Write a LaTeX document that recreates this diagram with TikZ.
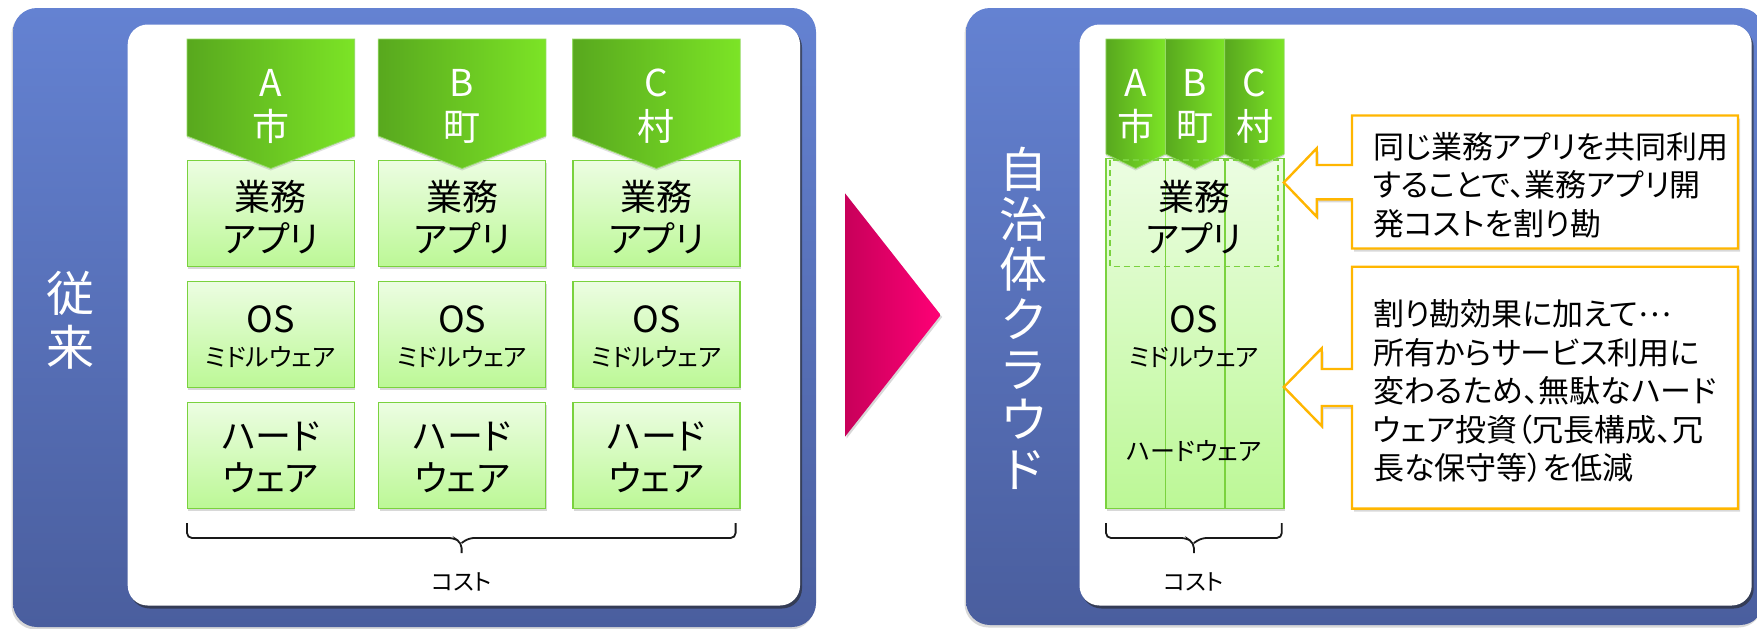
\documentclass[tikz,border=0pt]{standalone}
\usepackage{fontspec}
\setmainfont[RawFeature=+palt]{Noto Sans CJK JP}
\usetikzlibrary{shadows}
\definecolor{panelTop}{RGB}{100,130,210}
\definecolor{panelBot}{RGB}{74,94,158}
\definecolor{gDark}{RGB}{88,168,30}
\definecolor{gLight}{RGB}{124,228,38}
\definecolor{gBorder}{RGB}{122,210,62}
\definecolor{bTop}{RGB}{236,253,226}
\definecolor{bBot}{RGB}{188,248,150}
\definecolor{pinkL}{RGB}{200,0,90}
\definecolor{pinkR}{RGB}{255,0,118}
\definecolor{orng}{RGB}{255,182,0}
\definecolor{braceC}{RGB}{25,25,25}
\newcommand\fsz[2]{\fontsize{#1}{#2}\selectfont}
\begin{document}
\begin{tikzpicture}[x=1pt,y=-1pt,
  panel/.style={top color=panelTop,bottom color=panelBot,rounded corners=24,
    drop shadow={shadow xshift=-1.5pt,shadow yshift=-2.5pt,opacity=.3}},
  innerbox/.style={fill=white,rounded corners=20,
    drop shadow={shadow xshift=2pt,shadow yshift=-3pt,opacity=.6,fill=black!85}},
  gbox/.style={draw=gBorder,line width=1.6pt,top color=bTop,bottom color=bBot,
    minimum width=167,minimum height=106,inner sep=0pt,align=center,
    drop shadow={shadow xshift=1pt,shadow yshift=-2.5pt,opacity=.3}},
  colbox/.style={draw=gBorder,line width=1.6pt,top color=bTop,bottom color=bBot,
    minimum width=59.5,minimum height=350,inner sep=0pt,
    drop shadow={shadow xshift=1pt,shadow yshift=-2.5pt,opacity=.3}},
  pent/.style={left color=gDark,right color=gLight,draw=gBorder!80!white,line width=.8pt,
    drop shadow={shadow xshift=0pt,shadow yshift=-2pt,opacity=.25}},
  big/.style={font=\fsz{36}{42},align=center,inner sep=0pt,text=black},
  small/.style={font=\fsz{25}{28},align=center,inner sep=0pt,text=black},
  cost/.style={font=\fsz{23}{26},align=center,inner sep=0pt,text=black},
  wlab/.style={font=\fsz{37}{44},align=center,inner sep=0pt,text=white},
  title/.style={align=center,inner sep=0pt,text=white},
  bracestyle/.style={draw=braceC,line width=1.8pt,rounded corners=5},
  callout/.style={draw=orng,line width=2.4pt,fill=white,line join=miter,
    drop shadow={shadow xshift=2pt,shadow yshift=-3pt,opacity=.3}},
  ctext/.style={font=\fsz{31}{38.5},align=left,inner sep=0pt,anchor=west,text=black}
]
\useasboundingbox (0,0) rectangle (1757,629);
\fill[white] (0,0) rectangle (1757,629);

% ---------- left panel ----------
\path[panel] (13,8) rectangle (816,627);
\path[innerbox] (127.7,24.5) rectangle (800,605.5);
\node[title,font=\fsz{48}{54}] (titleL) at (70.6,320) {従\\来};

\foreach \n/\x/\t/\c in {a/270.8/A/市, b/462.1/B/町, c/656.4/C/村}{
  \node[gbox] (\n app) at (\x,213.5) {};
  \node[gbox] (\n os)  at (\x,334.3) {};
  \node[gbox] (\n hw)  at (\x,455.5) {};
  \node[big] (\n appT) at (\x,217.5) {業務\\アプリ};
  \node[big] (\n osT) at (\x,319) {OS};
  \node[small] (\n mwT) at (\x,357) {ミドルウェア};
  \node[big] (\n hwT) at (\x,457) {ハード\\ウェア};
  \path[pent] (\x-83.8,39) -- (\x+83.8,39) -- (\x+83.8,136) -- (\x,168.5) -- (\x-83.8,136) -- cycle;
  \node[wlab] (\n lab) at (\x,106) {\t\\\c};
}

% brace left
\coordinate (bl1) at (187,523);
\coordinate (bl2) at (735.6,523);
\coordinate (blm) at (461.6,553);
\draw[bracestyle] (bl1) -- (187,538) -- (454,538) -- (461.6,543) -- (blm);
\draw[bracestyle] (bl2) -- (735.6,538) -- (469,538) -- (461.6,543);
\node[cost] (costL) at (461.6,581.7) {コスト};

% ---------- arrow ----------
\path[left color=pinkL,right color=pinkR,
  drop shadow={shadow xshift=1.5pt,shadow yshift=-2pt,opacity=.3}]
  (845,193.3) -- (940.7,315) -- (845,436.7) -- cycle;

% ---------- right panel ----------
\path[panel] (966,8) rectangle (1764,625);
\path[innerbox] (1079.5,24.5) rectangle (1751.7,605.5);
\node[title,font=\fsz{48}{50}] (titleR) at (1023.5,318) {自\\治\\体\\ク\\ラ\\ウ\\ド};

\foreach \n/\x in {ra/1135.65, rb/1195.1, rc/1254.5}{
  \node[colbox] (\n col) at (\x,333.5) {};
}
\foreach \n/\x/\t/\c in {ra/1135.65/A/市, rb/1195.1/B/町, rc/1254.5/C/村}{
  \path[pent] (\x-29.7,39) -- (\x+29.7,39) -- (\x+29.7,154) -- (\x,168.5) -- (\x-29.7,154) -- cycle;
  \node[wlab] (\n lab) at (\x,106) {\t\\\c};
}
\draw[gBorder,line width=1.5pt,dash pattern=on 6pt off 4pt] (1110,160) rectangle (1278,266.5);
\node[big] (rappT) at (1194,217.5) {業務\\アプリ};
\node[big] (rosT) at (1194,319) {OS};
\node[small] (rmwT) at (1194,357) {ミドルウェア};
\node[small] (rhwT) at (1194,451) {ハードウェア};

% brace right
\coordinate (br1) at (1106,523);
\coordinate (br2) at (1281.8,523);
\coordinate (brm) at (1193.9,553);
\draw[bracestyle] (br1) -- (1106,538) -- (1186.3,538) -- (1193.9,543) -- (brm);
\draw[bracestyle] (br2) -- (1281.8,538) -- (1201.5,538) -- (1193.9,543);
\node[cost] (costR) at (1193.9,581.7) {コスト};

% ---------- callouts ----------
\path[callout] (1352,165) -- (1352,115.5) -- (1738,115.5) -- (1738,248.5) -- (1352,248.5)
  -- (1352,199.3) -- (1316.7,199.3) -- (1316.7,216.7) -- (1283.8,182.5) -- (1316.7,148.3)
  -- (1316.7,165) -- cycle;
\node[ctext] (c1) at (1372.8,185.2) {同じ業務アプリを共同利用\\することで、業務アプリ開\\発コストを割り勘};

\path[callout] (1352,369) -- (1352,266.7) -- (1738,266.7) -- (1738,508.6) -- (1352,508.6)
  -- (1352,406) -- (1321.7,406) -- (1321.7,426) -- (1283.8,387) -- (1321.7,348.3)
  -- (1321.7,369) -- cycle;
\node[ctext] (c2) at (1372.8,391.1) {割り勘効果に加えて\raisebox{.3em}{…}\\所有からサービス利用に\\変わるため、無駄なハード\\ウェア投資（冗長構成、冗\\長な保守等）を低減};
\end{tikzpicture}
\end{document}
